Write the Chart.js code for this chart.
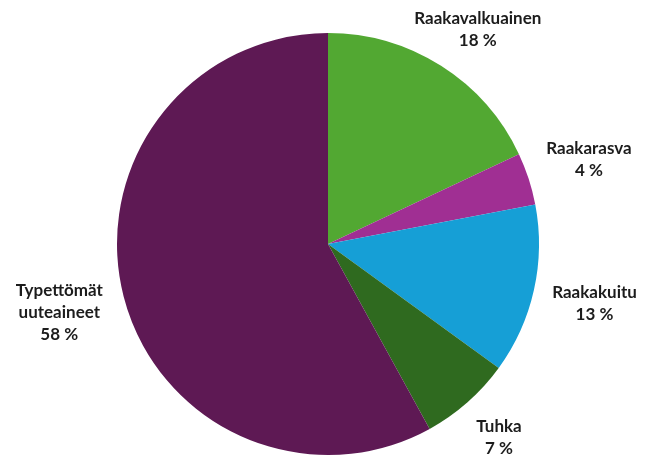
<!DOCTYPE html>
<html lang="fi">
<head>
  <meta charset="UTF-8">
  <title>Rehun koostumus</title>
  <style>
    body {
      margin: 0;
      background: #fff;
    }
    #chart {
      display: block;
    }
  </style>
  <script src="https://cdn.jsdelivr.net/npm/chart.js"></script>
</head>
<body>
  <canvas id="chart" width="648" height="462"></canvas>
  <script>
    // Osuudet (%)
    const categories = ['Raakavalkuainen', 'Raakarasva', 'Raakakuitu', 'Tuhka', 'Typettömät uuteaineet'];
    const values = [18, 4, 13, 7, 58];
    const colors = ['#52a832', '#a02f93', '#169fd6', '#2f6a1f', '#5e1954'];

    // Tekstit sektorien ulkopuolelle
    const outsideLabels = {
      id: 'outsideLabels',
      afterDatasetsDraw(chart) {
        const ctx = chart.ctx;
        const meta = chart.getDatasetMeta(0);
        const lineH = 22;
        const gap = 16;
        ctx.save();
        ctx.font = 'bold 17px Lato, "Open Sans", sans-serif';
        ctx.fillStyle = '#1c1c1c';
        ctx.textAlign = 'center';
        ctx.textBaseline = 'middle';
        meta.data.forEach((arc, i) => {
          const lines = categories[i].split(' ');
          lines.push(values[i] + '\u202F%');
          const w = Math.max(...lines.map(l => ctx.measureText(l).width));
          const h = lines.length * lineH;
          const mid = (arc.startAngle + arc.endAngle) / 2;
          const dx = Math.cos(mid), dy = Math.sin(mid);
          const dist = arc.outerRadius + gap + Math.abs(dx) * w / 2 + Math.abs(dy) * h / 2;
          let cx = arc.x + dx * dist;
          let cy = arc.y + dy * dist;
          cy = Math.max(cy, h / 2 + 8);
          cy = Math.min(cy, chart.height - h / 2 - 1);
          lines.forEach((l, k) => {
            ctx.fillText(l, cx, cy - h / 2 + lineH / 2 + k * lineH);
          });
        });
        ctx.restore();
      }
    };

    new Chart(document.getElementById('chart'), {
      type: 'pie',
      data: {
        labels: categories,
        datasets: [{
          data: values,
          backgroundColor: colors,
          borderWidth: 0
        }]
      },
      options: {
        responsive: false,
        animation: false,
        layout: {
          padding: { left: 117, right: 109, top: 33, bottom: 7 }
        },
        plugins: {
          legend: { display: false },
          tooltip: { enabled: false }
        }
      },
      plugins: [outsideLabels]
    });
  </script>
</body>
</html>
